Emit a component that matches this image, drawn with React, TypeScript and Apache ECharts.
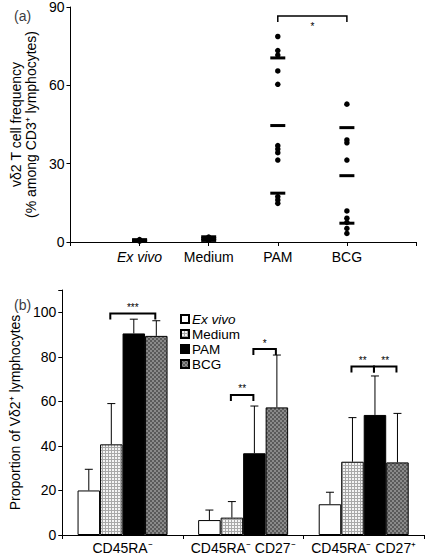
import React, { useEffect, useRef } from "react";
import * as echarts from "echarts";

// ---------- Panel (a) data ----------
const CATS_A = ["Ex vivo", "Medium", "PAM", "BCG"];
const EXVIVO_PTS = [0.3, 0.6, 0.9];
const EXVIVO_MEAN = [0.9, 0.6, 0.3];
const MEDIUM_PTS = [0.7, 1.1, 1.5, 1.9];
const MEDIUM_MEAN = [2.0, 1.3, 0.6];
const PAM_PTS = [78.7, 73.3, 71.6, 65.5, 60.4, 36.9, 35.6, 34.2, 31.4, 17.4, 16.1, 14.8];
const PAM_MEAN = [70.5, 44.6, 18.7];
const BCG_PTS = [52.8, 39.1, 38.0, 31.4, 11.9, 9.1, 7.5, 5.2, 3.3];
const BCG_MEAN = [43.8, 25.4, 7.2];
const Y_TICKS_A = [0, 30, 60, 90];
// bracket: [from category pos, to category pos, y, label]
const BRACKETS_A: [number, number, number, string][] = [[3, 4, 86.6, "*"]];

// ---------- Panel (b) data ----------
const GROUPS_B = ["CD45RA⁻", "CD45RA⁻ CD27⁻", "CD45RA⁻ CD27⁺"];
const SERIES_B = ["Ex vivo", "Medium", "PAM", "BCG"];
const EXVIVO_B = [20.0, 6.7, 13.8];
const EXVIVO_B_ERR = [29.5, 11.2, 19.2];
const MEDIUM_B = [40.7, 7.8, 32.9];
const MEDIUM_B_ERR = [59.0, 15.0, 52.7];
const PAM_B = [90.5, 36.7, 53.9];
const PAM_B_ERR = [96.9, 57.9, 71.4];
const BCG_B = [89.4, 57.3, 32.6];
const BCG_B_ERR = [96.2, 80.8, 54.6];
// bracket: [group, bar index from, bar index to, y, label]
const BRACKETS_B: [number, number, number, number, string][] = [
  [0, 1, 3, 99.5, "***"],
  [1, 1, 2, 62.9, "**"],
  [1, 2, 3, 83.5, "*"],
  [2, 1, 2, 75.6, "**"],
  [2, 2, 3, 75.6, "**"],
];

const FONT = "'Liberation Sans', Arial, Helvetica, sans-serif";
const BAR_W = 22.5;

function makePattern(bg: string, line: string, size: number, checker: boolean): string {
  const c = document.createElement("canvas");
  c.width = size;
  c.height = size;
  const ctx = c.getContext("2d")!;
  ctx.fillStyle = bg;
  ctx.fillRect(0, 0, size, size);
  ctx.fillStyle = line;
  if (checker) {
    ctx.fillRect(0, 0, size / 2, size / 2);
    ctx.fillRect(size / 2, size / 2, size / 2, size / 2);
  } else {
    ctx.fillRect(0, 0, size, 1);
    ctx.fillRect(0, 0, 1, size);
  }
  return c.toDataURL();
}

export default function App() {
  const ref = useRef<HTMLDivElement>(null);
  useEffect(() => {
    if (!ref.current) return;
    const chart = echarts.init(ref.current, null, { renderer: "svg" });

    const medPat = { image: makePattern("#f4f4f4", "#a8a8a8", 3, false), repeat: "repeat" };
    const bcgPat = { image: makePattern("#5a5a5a", "#8a8a8a", 4, true), repeat: "repeat" };

    const colsA = [EXVIVO_PTS, MEDIUM_PTS, PAM_PTS, BCG_PTS];
    const meansA = [EXVIVO_MEAN, MEDIUM_MEAN, PAM_MEAN, BCG_MEAN];
    const dotData: number[][] = [];
    colsA.forEach((arr, i) => arr.forEach((v) => dotData.push([i + 1, v])));
    const meanData: number[][] = [];
    meansA.forEach((arr, i) => arr.forEach((v) => meanData.push([i + 1, v])));

    const valsB = [EXVIVO_B, MEDIUM_B, PAM_B, BCG_B];
    const errsB = [EXVIVO_B_ERR, MEDIUM_B_ERR, PAM_B_ERR, BCG_B_ERR];
    const errData: number[][] = [];
    valsB.forEach((arr, s) => arr.forEach((v, g) => errData.push([g, s, v, errsB[s][g]])));

    const barStyles = [
      { color: "#ffffff" },
      { color: medPat },
      { color: "#000000" },
      { color: bcgPat },
    ];

    const option: any = {
      animation: false,
      textStyle: { fontFamily: FONT, color: "#000" },
      title: [
        { text: "(a)", left: 9, top: 4, textStyle: { fontSize: 14, fontWeight: "normal", fontFamily: FONT } },
        { text: "(b)", left: 9, top: 293, textStyle: { fontSize: 14, fontWeight: "normal", fontFamily: FONT } },
      ],
      grid: [
        { left: 59, top: 7, width: 357, height: 235 },
        { left: 59, top: 290, width: 365, height: 245 },
      ],
      legend: {
        orient: "vertical",
        left: 180,
        top: 312,
        padding: 0,
        itemWidth: 8,
        itemHeight: 8,
        itemGap: 1,
        icon: "rect",
        data: SERIES_B,
        formatter: (n: string) => (n === "Ex vivo" ? "{i|Ex vivo}" : "{n|" + n + "}"),
        textStyle: {
          fontFamily: FONT,
          fontSize: 13.5,
          color: "#000",
          padding: [0, 0, 0, -2],
          rich: {
            i: { fontStyle: "italic", fontSize: 13.5, fontFamily: FONT, lineHeight: 13 },
            n: { fontSize: 13.5, fontFamily: FONT, lineHeight: 13 },
          },
        },
      },
      xAxis: [
        {
          gridIndex: 0,
          type: "value",
          min: 0,
          max: 5,
          interval: 1,
          splitLine: { show: false },
          axisLine: { show: true, lineStyle: { color: "#000", width: 1 } },
          axisTick: { show: true, length: 4, lineStyle: { color: "#000" } },
          axisLabel: {
            margin: 8,
            fontSize: 14,
            color: "#000",
            fontFamily: FONT,
            formatter: (v: number) => {
              const n = CATS_A[v - 1];
              if (!n) return "";
              return n === "Ex vivo" ? "{i|Ex vivo}" : n;
            },
            rich: { i: { fontStyle: "italic", fontSize: 14, fontFamily: FONT } },
          },
        },
        {
          gridIndex: 1,
          type: "category",
          data: GROUPS_B,
          axisLine: { show: true, lineStyle: { color: "#000", width: 1 } },
          axisTick: { show: true, length: 4, lineStyle: { color: "#000" } },
          axisLabel: { interval: 0, hideOverlap: false, margin: 6, fontSize: 14, color: "#000", fontFamily: FONT },
        },
      ],
      yAxis: [
        {
          gridIndex: 0,
          type: "value",
          min: 0,
          max: 90,
          interval: 30,
          splitLine: { show: false },
          axisLine: { show: true, lineStyle: { color: "#000", width: 1 } },
          axisTick: { show: true, length: 4, lineStyle: { color: "#000" } },
          axisLabel: {
            margin: 6,
            fontSize: 14,
            color: "#000",
            fontFamily: FONT,
            formatter: (v: number) => (Y_TICKS_A.includes(v) ? String(v) : ""),
          },
          name: "vδ2 T cell frequency\n(% among CD3⁺ lymphocytes)",
          nameLocation: "middle",
          nameRotate: 90,
          nameGap: 22,
          nameTextStyle: { fontSize: 14, color: "#000", fontFamily: FONT, lineHeight: 15 },
        },
        {
          gridIndex: 1,
          type: "value",
          min: 0,
          max: 110,
          interval: 20,
          splitLine: { show: false },
          axisLine: { show: true, lineStyle: { color: "#000", width: 1 } },
          axisTick: { show: true, length: 4, lineStyle: { color: "#000" } },
          axisLabel: {
            margin: 6,
            fontSize: 14,
            color: "#000",
            fontFamily: FONT,
            formatter: (v: number) => (v <= 100 ? String(v) : ""),
          },
          name: "Proportion of Vδ2⁺ lymphocytes",
          nameLocation: "middle",
          nameRotate: 90,
          nameGap: 35,
          nameTextStyle: { fontSize: 14, color: "#000", fontFamily: FONT },
        },
      ],
      series: [
        {
          type: "scatter",
          xAxisIndex: 0,
          yAxisIndex: 0,
          symbol: "circle",
          symbolSize: 5.5,
          itemStyle: { color: "#000", opacity: 1 },
          data: dotData,
          z: 3,
        },
        {
          type: "scatter",
          xAxisIndex: 0,
          yAxisIndex: 0,
          symbol: "rect",
          symbolSize: [15, 3],
          itemStyle: { color: "#000", opacity: 1 },
          data: meanData,
          z: 4,
        },
        {
          type: "custom",
          xAxisIndex: 0,
          yAxisIndex: 0,
          data: BRACKETS_A,
          encode: { x: [0, 1], y: 2 },
          itemStyle: { color: "#000" },
          renderItem: (params: any, api: any) => {
            const p1 = api.coord([api.value(0), api.value(2)]);
            const p2 = api.coord([api.value(1), api.value(2)]);
            const lab = BRACKETS_A[params.dataIndex][3];
            return {
              type: "group",
              children: [
                {
                  type: "polyline",
                  shape: { points: [[p1[0], p1[1] + 6], p1, p2, [p2[0], p2[1] + 6]] },
                  style: { stroke: "#000", lineWidth: 1.5, fill: "none" },
                },
                {
                  type: "text",
                  x: (p1[0] + p2[0]) / 2,
                  y: p1[1] + 11,
                  style: { text: lab, align: "center", verticalAlign: "middle", fontSize: 10, fontFamily: FONT, fill: "#000" },
                },
              ],
            };
          },
        },
        ...SERIES_B.map((n, i) => ({
          name: n,
          type: "bar",
          xAxisIndex: 1,
          yAxisIndex: 1,
          barWidth: BAR_W,
          barGap: "0%",
          data: valsB[i],
          itemStyle: { ...barStyles[i], borderColor: "#000", borderWidth: 1 },
          z: 2,
        })),
        {
          type: "custom",
          xAxisIndex: 1,
          yAxisIndex: 1,
          data: errData,
          encode: { x: 0, y: 3 },
          itemStyle: { color: "#000" },
          z: 1,
          renderItem: (params: any, api: any) => {
            const g = api.value(0);
            const s = api.value(1);
            const base = api.coord([g, api.value(2)]);
            const top = api.coord([g, api.value(3)]);
            const x = base[0] + (s - 1.5) * BAR_W;
            return {
              type: "group",
              children: [
                { type: "line", shape: { x1: x, y1: base[1], x2: x, y2: top[1] }, style: { stroke: "#000", lineWidth: 1 } },
                { type: "line", shape: { x1: x - 4, y1: top[1], x2: x + 4, y2: top[1] }, style: { stroke: "#000", lineWidth: 1 } },
              ],
            };
          },
        },
        {
          type: "custom",
          xAxisIndex: 1,
          yAxisIndex: 1,
          data: BRACKETS_B,
          encode: { x: 0, y: 3 },
          itemStyle: { color: "#000" },
          z: 5,
          renderItem: (params: any, api: any) => {
            const g = api.value(0);
            const c = api.coord([g, api.value(3)]);
            const x1 = c[0] + (api.value(1) - 1.5) * BAR_W - 1;
            const x2 = c[0] + (api.value(2) - 1.5) * BAR_W - 1;
            const y = c[1];
            const lab = BRACKETS_B[params.dataIndex][4];
            return {
              type: "group",
              children: [
                {
                  type: "polyline",
                  shape: { points: [[x1, y + 6], [x1, y], [x2, y], [x2, y + 6]] },
                  style: { stroke: "#000", lineWidth: 2, fill: "none" },
                },
                {
                  type: "text",
                  x: (x1 + x2) / 2,
                  y: y - 6,
                  style: { text: lab, align: "center", verticalAlign: "middle", fontSize: 10, fontFamily: FONT, fill: "#000" },
                },
              ],
            };
          },
        },
      ],
    };
    chart.setOption(option);
    return () => chart.dispose();
  }, []);
  return <div ref={ref} style={{ position: "absolute", left: 0, top: 0, width: 426, height: 556 }} />;
}
